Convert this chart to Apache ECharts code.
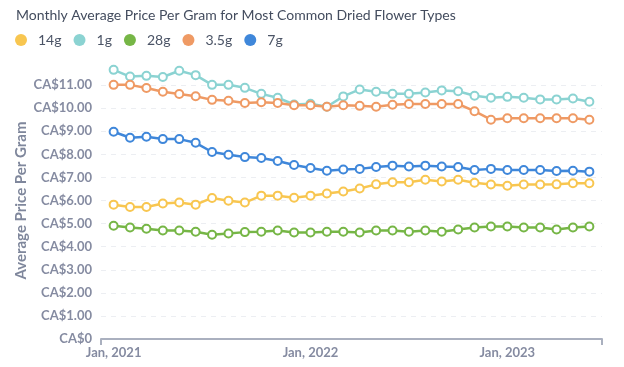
<!DOCTYPE html>
<html>
<head>
<meta charset="utf-8">
<script src="https://cdn.jsdelivr.net/npm/echarts@6/dist/echarts.min.js"></script>
<style>
html,body{margin:0;padding:0;background:#fff;}
#c{width:624px;height:367px;}
</style>
</head>
<body>
<div id="c"></div>
<script>
const months = ["Jan, 2021","Feb, 2021","Mar, 2021","Apr, 2021","May, 2021","Jun, 2021","Jul, 2021","Aug, 2021","Sep, 2021","Oct, 2021","Nov, 2021","Dec, 2021",
  "Jan, 2022","Feb, 2022","Mar, 2022","Apr, 2022","May, 2022","Jun, 2022","Jul, 2022","Aug, 2022","Sep, 2022","Oct, 2022","Nov, 2022","Dec, 2022",
  "Jan, 2023","Feb, 2023","Mar, 2023","Apr, 2023","May, 2023","Jun, 2023"];
const seriesNames = ["14g","1g","28g","3.5g","7g"];
const v14g = [5.82,5.72,5.72,5.87,5.91,5.82,6.11,5.99,5.91,6.21,6.21,6.12,6.21,6.30,6.39,6.52,6.70,6.79,6.79,6.90,6.82,6.90,6.77,6.69,6.64,6.69,6.69,6.70,6.75,6.75];
const v1g = [11.66,11.37,11.40,11.35,11.62,11.43,11.01,11.01,10.88,10.62,10.45,10.16,10.19,10.06,10.51,10.81,10.71,10.62,10.62,10.68,10.77,10.73,10.54,10.45,10.49,10.45,10.38,10.38,10.42,10.28];
const v28g = [4.91,4.83,4.78,4.70,4.70,4.65,4.52,4.57,4.63,4.65,4.70,4.61,4.61,4.65,4.65,4.61,4.70,4.70,4.65,4.70,4.65,4.74,4.83,4.87,4.87,4.83,4.83,4.74,4.83,4.87];
const v35g = [11.01,11.01,10.87,10.71,10.61,10.52,10.36,10.32,10.22,10.26,10.22,10.13,10.13,10.06,10.13,10.10,10.06,10.15,10.18,10.18,10.18,10.18,9.87,9.50,9.56,9.56,9.56,9.56,9.56,9.50];
const v7g = [8.98,8.72,8.76,8.66,8.66,8.50,8.10,7.98,7.88,7.84,7.71,7.54,7.41,7.29,7.34,7.37,7.45,7.51,7.47,7.51,7.47,7.45,7.32,7.37,7.32,7.32,7.32,7.28,7.29,7.25];
const yTicks = [0,1,2,3,4,5,6,7,8,9,10,11];
const xLabelIdx = [0,12,24];

const colors = ["#f8c650","#8bd3d2","#76b646","#ef9a64","#3f87da"];
const values = [v14g, v1g, v28g, v35g, v7g];
const axisText = "#858ba1";

const chart = echarts.init(document.getElementById('c'), null, {renderer:'canvas'});
chart.setOption({
  animation: false,
  backgroundColor: '#fff',
  textStyle: {fontFamily: 'Lato'},
  title: {
    text: 'Monthly Average Price Per Gram for Most Common Dried Flower Types',
    left: 11, top: 3,
    textStyle: {fontFamily:'Lato', fontSize: 14, fontWeight: 'normal', color: '#434c5e'}
  },
  legend: {
    left: 10, top: 28,
    icon: 'circle', itemWidth: 12, itemHeight: 12, itemGap: 12,
    itemStyle: {borderWidth: 0},
    textStyle: {fontFamily:'Lato', fontSize: 14, color: '#4b5466', padding:[0,0,0,6]},
    data: seriesNames
  },
  grid: {left: 101, right: 22, top: 62, bottom: 28, containLabel: false},
  xAxis: {
    type: 'value', min: -0.77, max: 29.77,
    offset: 2,
    axisLine: {show: true, lineStyle: {color: '#aab0bf', width: 2}},
    axisTick: {show: true, customValues: [-0.77, 29.77], length: 6, lineStyle: {color: '#aab0bf', width: 2}},
    splitLine: {show: false},
    axisLabel: {
      customValues: xLabelIdx,
      formatter: v => months[Math.round(v)],
      color: axisText, fontFamily: 'Lato', fontWeight: 'bold', fontSize: 13, margin: 5
    }
  },
  yAxis: {
    type: 'value', min: 0, max: 12, interval: 1,
    name: 'Average Price Per Gram', nameLocation: 'middle', nameGap: 72,
    nameMoveOverlap: false,
    nameTextStyle: {fontFamily:'Lato', fontSize: 15, fontWeight: 'bold', color: '#7f879c'},
    axisLine: {show: false},
    axisTick: {show: false, customValues: yTicks},
    axisLabel: {
      customValues: yTicks,
      formatter: v => v === 0 ? 'CA$0' : 'CA$' + v.toFixed(2),
      color: axisText, fontFamily: 'Lato', fontWeight: 'bold', fontSize: 13, margin: 9
    },
    splitLine: {show: true, lineStyle: {color: '#eceef2', type: [5,5], width: 1}}
  },
  series: seriesNames.map((n, k) => ({
    name: n, type: 'line',
    data: values[k].map((v, i) => [i, v]),
    symbol: 'emptyCircle', symbolSize: 8,
    lineStyle: {color: colors[k], width: 2.5},
    itemStyle: {color: colors[k], borderWidth: 2}
  }))
});
</script>
</body>
</html>
